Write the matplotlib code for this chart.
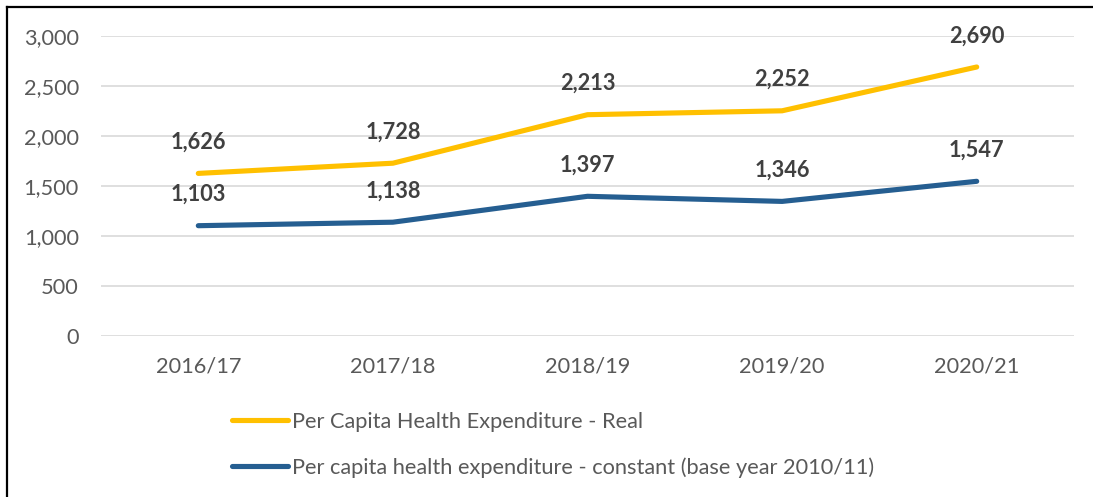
import matplotlib
matplotlib.use("Agg")
import matplotlib.pyplot as plt
from matplotlib.lines import Line2D

plt.rcParams['font.family'] = ['Lato', 'DejaVu Sans']

years = ["2016/17", "2017/18", "2018/19", "2019/20", "2020/21"]
real = [1626, 1728, 2213, 2252, 2690]
constant = [1103, 1138, 1397, 1346, 1547]
series_names = ["Per Capita Health Expenditure - Real",
                "Per capita health expenditure - constant (base year 2010/11)"]
yticks = [0, 500, 1000, 1500, 2000, 2500, 3000]

c_real = "#FFC000"
c_const = "#255E91"
txt = "#595959"
lbl = "#404040"
FS = 15.7

W, H = 1093, 497
fig = plt.figure(figsize=(W / 100, H / 100), dpi=100)
ax = fig.add_axes([101 / W, 1 - 336 / H, (1074 - 101) / W, 300 / H])

x = list(range(len(years)))
ax.plot(x, real, color=c_real, lw=3.7, solid_capstyle='round', solid_joinstyle='round', zorder=3)
ax.plot(x, constant, color=c_const, lw=3.7, solid_capstyle='round', solid_joinstyle='round', zorder=3)

for xi, v in zip(x, real):
    ax.annotate(f"{v:,}", (xi, v), xytext=(0, 22.5), textcoords='offset points',
                ha='center', va='center', fontsize=FS, fontweight='bold', color=lbl)
for xi, v in zip(x, constant):
    ax.annotate(f"{v:,}", (xi, v), xytext=(0, 22.5), textcoords='offset points',
                ha='center', va='center', fontsize=FS, fontweight='bold', color=lbl)

ax.set_xlim(-0.5, len(years) - 0.5)
ax.set_ylim(0, 3000)
ax.set_yticks(yticks)
ax.set_yticklabels([f"{v:,}" for v in yticks])
ax.set_xticks(x)
ax.set_xticklabels(years)
ax.tick_params(axis='both', length=0, labelsize=FS, labelcolor=txt)
ax.tick_params(axis='y', pad=16)
ax.tick_params(axis='x', pad=15)
ax.grid(axis='y', color='#D9D9D9', lw=1.2)
ax.set_axisbelow(True)
for s in ax.spines.values():
    s.set_visible(False)

handles = [Line2D([], [], color=c_real, lw=3.7, solid_capstyle='round'),
           Line2D([], [], color=c_const, lw=3.7, solid_capstyle='round')]
leg = fig.legend(handles, series_names, loc='upper left', bbox_to_anchor=(232 / W, 1 - 412 / H),
                 frameon=False, fontsize=FS, labelcolor=txt, handlelength=2.55,
                 handletextpad=0.2, labelspacing=1.15, borderpad=0, borderaxespad=0)

# frame border (top and left visible)
fig.add_artist(Line2D([7 / W, 1], [1 - 7 / H, 1 - 7 / H], color='black', lw=1.6, transform=fig.transFigure))
fig.add_artist(Line2D([7 / W, 7 / W], [0, 1 - 7 / H], color='black', lw=1.6, transform=fig.transFigure))

fig.savefig("out.png", dpi=100, facecolor='white')
